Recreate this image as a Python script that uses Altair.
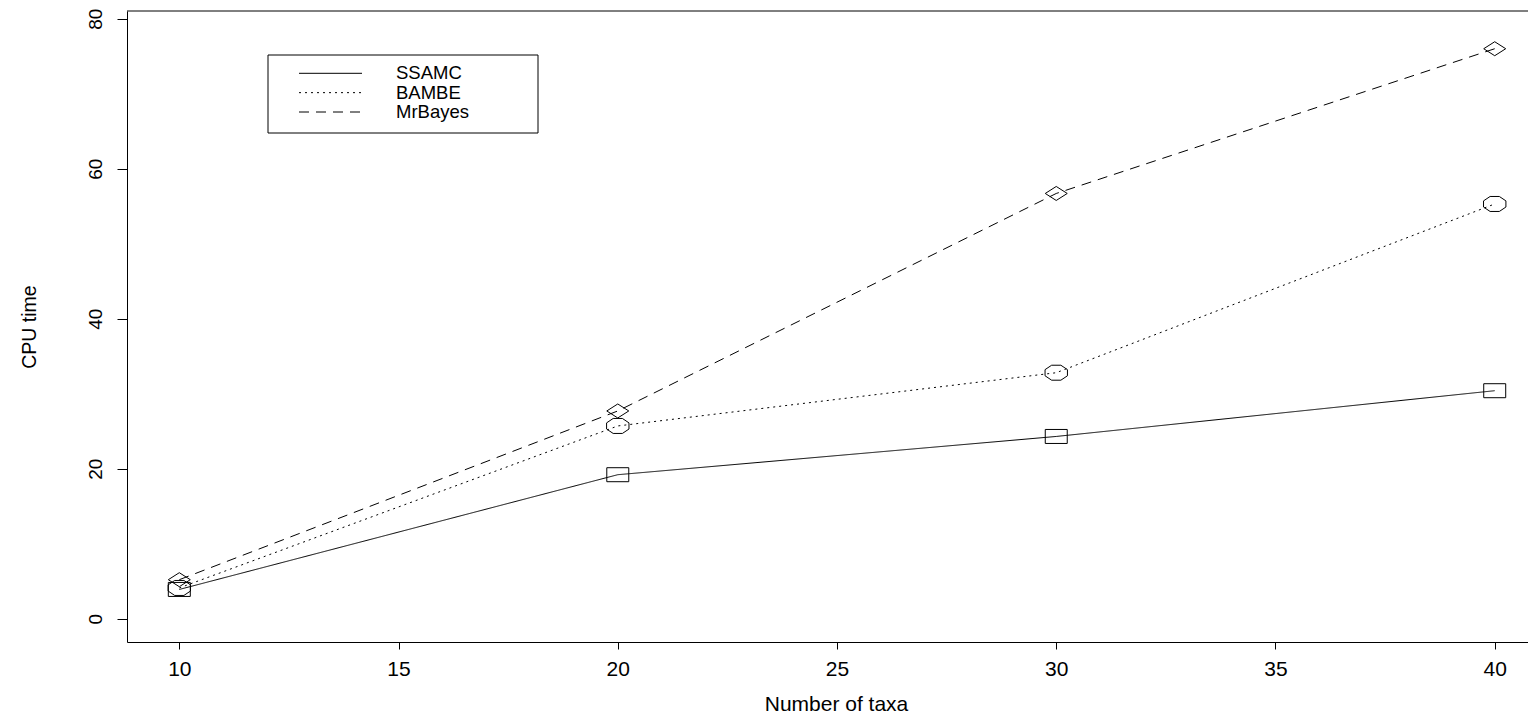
import altair as alt
import pandas as pd

# ---- data ----
taxa = [10, 20, 30, 40]
ssamc = [3.9, 19.2, 24.3, 30.4]
bambe = [4.1, 25.7, 32.8, 55.3]
mrbayes = [5.2, 27.7, 56.7, 76.0]
series = ["SSAMC", "BAMBE", "MrBayes"]
x_ticks = [10, 15, 20, 25, 30, 35, 40]
y_ticks = [0, 20, 40, 60, 80]

rows = []
for name, vals in zip(series, [ssamc, bambe, mrbayes]):
    for t, v in zip(taxa, vals):
        rows.append({"series": name, "taxa": t, "cpu": v})
df = pd.DataFrame(rows)

# ---- styles ----
dashes = [[1, 0], [2, 4], [10, 7]]
square = "M-1.57,-1L1.57,-1L1.57,1L-1.57,1Z"
octagon = ("M-0.66,-1.07L0.66,-1.07L1.6,-0.44L1.6,0.44L0.66,1.07"
           "L-0.66,1.07L-1.6,0.44L-1.6,-0.44Z")
diamond = "M0,-1L1.57,0L0,1L-1.57,0Z"
shapes = [square, octagon, diamond]

W, H = 1401, 631
FONT = "Liberation Sans"

xscale = alt.Scale(domain=[8.807, 40.759], nice=False, zero=False)
yscale = alt.Scale(domain=[-3.107, 81.03], nice=False, zero=False)

xaxis = alt.Axis(values=x_ticks, title="Number of taxa", tickSize=7,
                 labelPadding=9.4, labelFontSize=21, labelFont=FONT,
                 titleFontSize=21, titleFont=FONT, titleFontWeight="normal",
                 titleX=709, titleY=68, titleBaseline="alphabetic",
                 titleAlign="center", labelFlush=False, labelOverlap=False)
yaxis = alt.Axis(values=y_ticks, title="CPU time", tickSize=10,
                 labelAngle=270, labelAlign="center", labelBaseline="middle",
                 labelPadding=21.7, labelFontSize=19, labelFont=FONT,
                 titleFontSize=19.5, titleFont=FONT, titleFontWeight="normal",
                 titleAngle=270, titleX=-97.5, titleY=315.5,
                 titleAlign="center", titleBaseline="middle",
                 labelFlush=False, labelOverlap=False)

X = alt.X("taxa:Q", scale=xscale, axis=xaxis)
Y = alt.Y("cpu:Q", scale=yscale, axis=yaxis)

base = alt.Chart(df)
lines = base.mark_line(color="black", strokeWidth=1).encode(
    x=X, y=Y,
    strokeDash=alt.StrokeDash("series:N",
                              scale=alt.Scale(domain=series, range=dashes),
                              legend=None),
    detail="series:N",
)
points = base.mark_point(filled=False, color="black", strokeWidth=1,
                         size=196, opacity=1).encode(
    x=X, y=Y,
    shape=alt.Shape("series:N", scale=alt.Scale(domain=series, range=shapes),
                    legend=None),
)

one = pd.DataFrame({"k": [0]})
top_border = alt.Chart(one).mark_rule(color="black", strokeWidth=1).encode(
    x=alt.value(0), x2=alt.value(W), y=alt.value(0))

legend_box = alt.Chart(one).mark_rect(fill="white", stroke="black",
                                      strokeWidth=1).encode(
    x=alt.value(141), x2=alt.value(411), y=alt.value(44), y2=alt.value(122))

legend_layers = [legend_box]
for i, name in enumerate(series):
    ly = 62.3 + 19.35 * i
    legend_layers.append(
        alt.Chart(pd.DataFrame({"label": [name]})).mark_rule(
            color="black", strokeWidth=1, strokeDash=dashes[i]).encode(
            x=alt.value(172), x2=alt.value(235), y=alt.value(ly)))
    legend_layers.append(
        alt.Chart(pd.DataFrame({"label": [name]})).mark_text(
            align="left", baseline="middle", fontSize=18.5, font=FONT,
            color="black").encode(
            x=alt.value(269), y=alt.value(ly), text="label:N"))

chart = alt.layer(lines, points, top_border, *legend_layers).properties(
    width=W, height=H,
    autosize=alt.AutoSizeParams(type="none"),
    padding={"left": 127, "top": 11, "right": 0, "bottom": 73},
).configure_view(stroke=None).configure_axis(
    domainColor="black", tickColor="black", labelColor="black",
    titleColor="black", grid=False, domainWidth=1, tickWidth=1,
)

chart.save("out.html", embed_options={"renderer": "svg", "actions": False})
